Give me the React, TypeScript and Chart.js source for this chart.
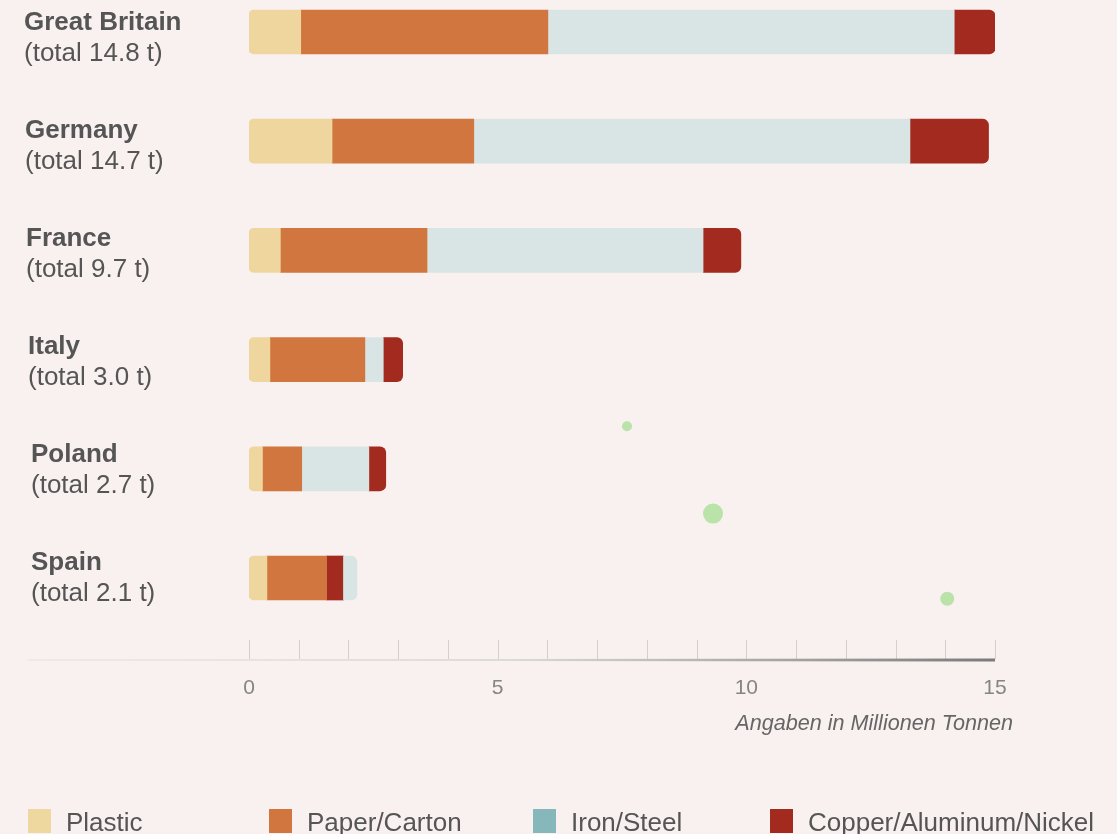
import React, { useEffect, useRef } from 'react';
import { Chart, registerables } from 'chart.js';

Chart.register(...registerables);

// ---- data ----
const countries = ['Great Britain', 'Germany', 'France', 'Italy', 'Poland', 'Spain'];
const totals = [14.8, 14.7, 9.7, 3.0, 2.7, 2.1];
const plastic = [1.04, 1.67, 0.63, 0.42, 0.27, 0.36];
const paperCarton = [4.97, 2.85, 2.95, 1.91, 0.79, 1.2];
const ironSteel = [8.17, 8.77, 5.55, 0.37, 1.35, 0.27];
const copperAlNi = [0.82, 1.58, 0.76, 0.39, 0.34, 0.34];
// order in which the segments follow each other inside each bar (series index)
const segmentOrder = [
  [0, 1, 2, 3],
  [0, 1, 2, 3],
  [0, 1, 2, 3],
  [0, 1, 2, 3],
  [0, 1, 2, 3],
  [0, 1, 3, 2],
];
const seriesNames = ['Plastic', 'Paper/Carton', 'Iron/Steel', 'Copper/Aluminum/Nickel'];
const xTickLabels = [0, 5, 10, 15];
const specksX = [7.6, 9.33, 14.04];
const specksY = [3.61, 4.41, 5.19];
const unitNote = 'Angaben in Millionen Tonnen';

// ---- styles ----
const BG = '#f9f1ef';
const barColors = ['#eed69e', '#d1763f', '#d9e5e4', '#a22a1e'];
const legendColors = ['#efd7a0', '#d1763f', '#86b8bb', '#a22a1e'];
const FONT = '"Liberation Sans", Arial, Helvetica, sans-serif';

const series = [plastic, paperCarton, ironSteel, copperAlNi];

function rangesFor(s: number) {
  return countries.map((_, i) => {
    let start = 0;
    for (const k of segmentOrder[i]) {
      if (k === s) return { x: [start, start + series[k][i]], y: i };
      start += series[k][i];
    }
    return { x: [0, 0], y: i };
  });
}

const decorPlugin = {
  id: 'decor',
  afterDraw(chart: any) {
    const { ctx, scales } = chart;
    const x = scales.x;
    const y = scales.y;
    const bottom = chart.chartArea.bottom;
    ctx.save();
    // row labels
    const indents = [24, 25, 26, 28, 31, 31];
    countries.forEach((name, i) => {
      const cy = y.getPixelForValue(i);
      const lx = indents[i];
      ctx.fillStyle = '#555555';
      ctx.textAlign = 'left';
      ctx.textBaseline = 'alphabetic';
      ctx.font = `bold 26px ${FONT}`;
      ctx.fillText(name, lx, cy - 2 - 1.2 * i);
      ctx.font = `26px ${FONT}`;
      ctx.fillText(`(total ${totals[i].toFixed(1)} t)`, lx, cy + 29 - 1.2 * i);
    });
    // tick marks (upwards)
    ctx.strokeStyle = '#d2cfce';
    ctx.lineWidth = 1;
    x.ticks.forEach((t: any) => {
      const px = Math.round(x.getPixelForValue(t.value)) + 0.5;
      ctx.beginPath();
      ctx.moveTo(px, bottom - 20);
      ctx.lineTo(px, bottom - 1);
      ctx.stroke();
    });
    // tapered axis line
    const left = 28;
    const grad = ctx.createLinearGradient(left, 0, x.right, 0);
    grad.addColorStop(0, 'rgba(215,210,208,0.5)');
    grad.addColorStop(0.5, '#dcdad9');
    grad.addColorStop(1, '#7a7a7a');
    ctx.fillStyle = grad;
    ctx.beginPath();
    ctx.moveTo(left, bottom - 0.5);
    ctx.lineTo(x.right, bottom - 1.5);
    ctx.lineTo(x.right, bottom + 1.5);
    ctx.lineTo(left, bottom + 0.5);
    ctx.closePath();
    ctx.fill();
    // unit note
    ctx.font = `italic 21.6px ${FONT}`;
    ctx.fillStyle = '#666666';
    ctx.textAlign = 'right';
    ctx.fillText(unitNote, x.right + 18, bottom + 70);
    // legend
    const legendX = [28, 269, 533, 770];
    seriesNames.forEach((n, i) => {
      ctx.fillStyle = legendColors[i];
      ctx.fillRect(legendX[i], 809, 23, 24);
      ctx.fillStyle = '#555555';
      ctx.textAlign = 'left';
      ctx.font = `26px ${FONT}`;
      ctx.fillText(n, legendX[i] + 38, 831);
    });
    ctx.restore();
  },
};

export default function App() {
  const ref = useRef<HTMLCanvasElement>(null);
  useEffect(() => {
    if (!ref.current) return;
    document.body.style.background = BG;
    const barDatasets = seriesNames.map((name, s) => ({
      type: 'bar' as const,
      label: name,
      data: rangesFor(s) as any,
      backgroundColor: barColors[s],
      borderWidth: 0,
      borderSkipped: false as any,
      barThickness: 44,
      grouped: false,
      borderRadius: (c: any) => {
        const order = segmentOrder[c.dataIndex] || [0, 1, 2, 3];
        const pos = order.indexOf(s);
        const first = pos === 0;
        const last = pos === order.length - 1;
        return {
          topLeft: first ? 5 : 0,
          bottomLeft: first ? 5 : 0,
          topRight: last ? 6 : 0,
          bottomRight: last ? 6 : 0,
        };
      },
    }));
    const chart = new Chart(ref.current, {
      type: 'bar',
      data: {
        datasets: [
          {
            type: 'scatter' as const,
            label: 'specks',
            data: specksX.map((v, i) => ({ x: v, y: specksY[i] })),
            pointRadius: [5, 10, 7],
            pointBackgroundColor: '#b9e3a9',
            pointBorderWidth: 0,
            borderWidth: 0,
          } as any,
          ...barDatasets,
        ],
      },
      options: {
        indexAxis: 'y',
        animation: false,
        responsive: false,
        events: [],
        layout: { autoPadding: false, padding: { left: 249, right: 122, top: 0, bottom: 0 } },
        plugins: { legend: { display: false }, tooltip: { enabled: false } },
        scales: {
          x: {
            type: 'linear',
            position: 'bottom',
            min: 0,
            max: 15,
            offset: false,
            grid: { display: false },
            border: { display: false },
            ticks: {
              stepSize: 1,
              autoSkip: false,
              maxRotation: 0,
              padding: 8,
              color: '#858585',
              font: { family: FONT, size: 21 },
              callback: (v: any) => (xTickLabels.includes(Number(v)) ? String(v) : ''),
            },
            afterFit: (scale: any) => {
              scale.height = 174;
            },
          },
          y: {
            type: 'linear',
            reverse: true,
            offset: false,
            min: -0.29304,
            max: 5.75092,
            display: false,
          },
        },
      } as any,
      plugins: [decorPlugin],
    });
    return () => chart.destroy();
  }, []);
  return (
    <div style={{ position: 'fixed', left: 0, top: 0, width: 1117, height: 834, background: BG }}>
      <canvas ref={ref} width={1117} height={834} style={{ display: 'block' }} />
    </div>
  );
}
